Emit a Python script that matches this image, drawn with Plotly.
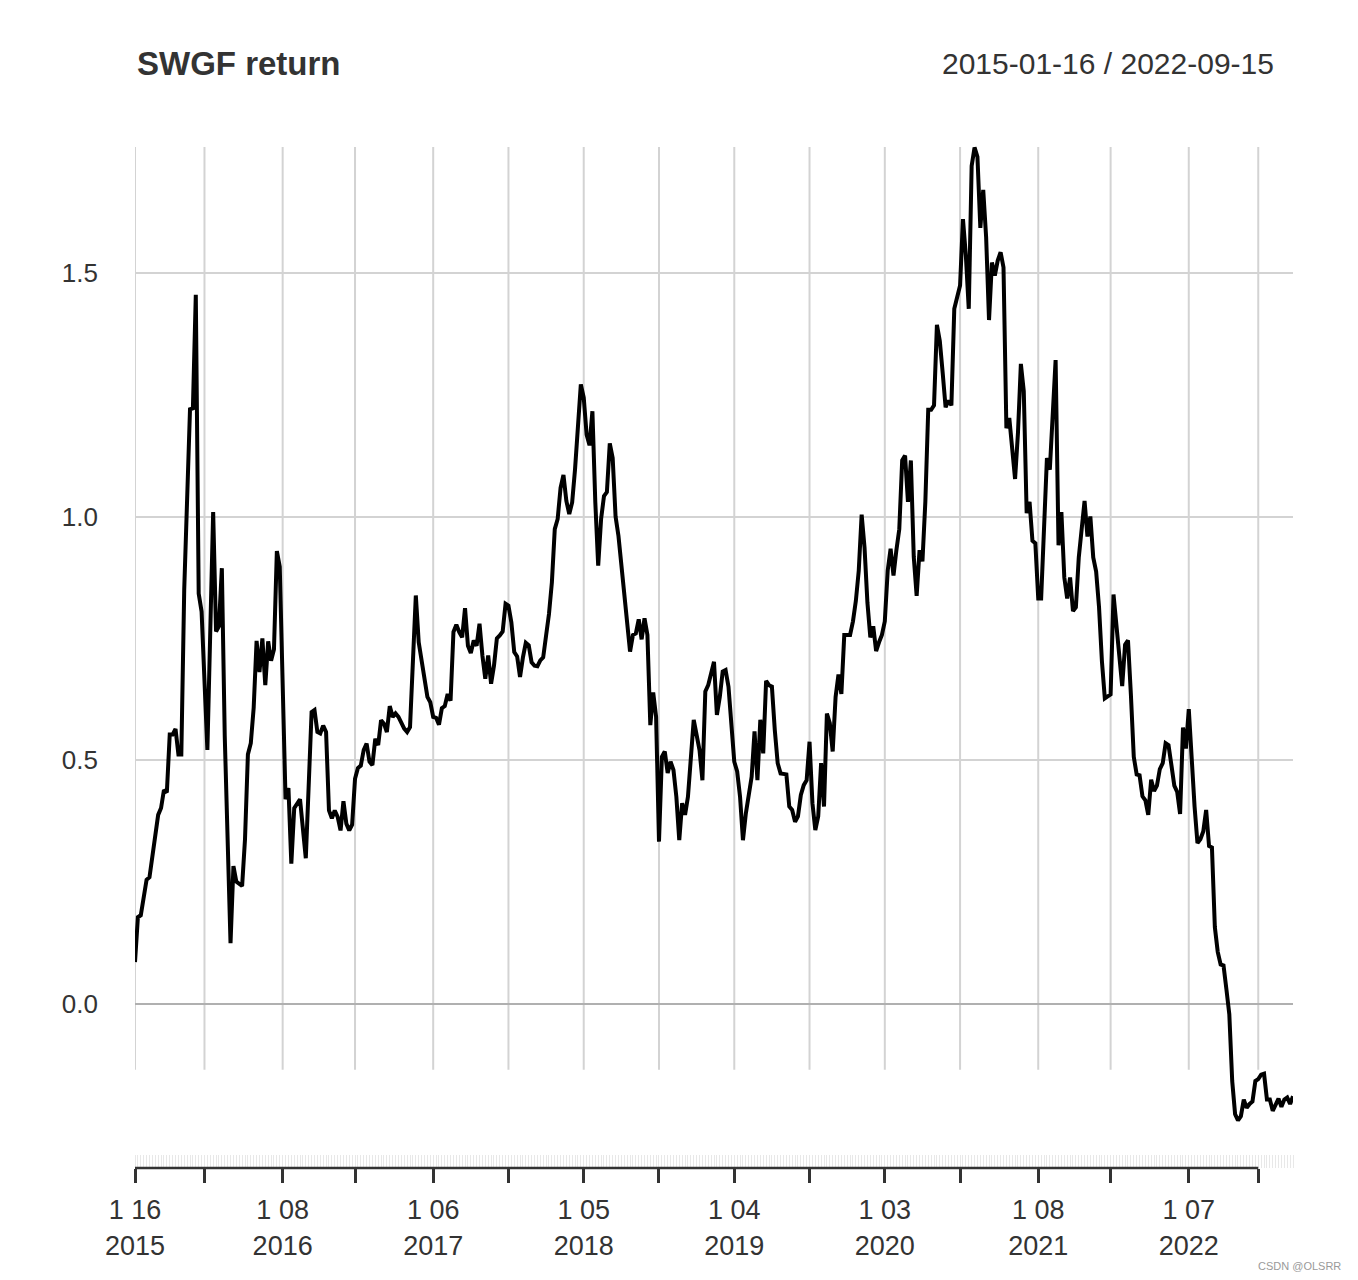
import pandas as pd
import plotly.graph_objects as go

# ---- data (weekly observations; week number counted from 2015-01-16) ----
start_date = "2015-01-16"

weeks_a = [0, 1, 2, 4, 5, 6, 8, 9, 10, 11, 12, 13, 14, 15, 16, 17, 19, 20, 21, 22,
           23, 25, 27, 28, 29, 30, 31, 33, 34, 35, 37, 38, 39, 40, 41, 42, 43, 44, 45, 46,
           47, 48, 49, 50, 51, 52, 53, 54, 55, 57, 59, 61, 62, 63, 64, 65, 66, 67, 68, 69,
           70, 71, 72, 73, 74, 75, 76, 77, 78, 79]
values_a = [0.086, 0.178, 0.182, 0.255, 0.26, 0.301, 0.388, 0.402, 0.439, 0.434,
            0.553, 0.553, 0.564, 0.512, 0.512, 0.85, 1.22, 1.222, 1.455, 0.842,
            0.805, 0.521, 1.009, 0.764, 0.775, 0.894, 0.55, 0.125, 0.283, 0.251,
            0.242, 0.338, 0.512, 0.535, 0.608, 0.745, 0.681, 0.75, 0.654, 0.744,
            0.704, 0.727, 0.929, 0.897, 0.65, 0.42, 0.443, 0.288, 0.402, 0.42,
            0.299, 0.599, 0.603, 0.558, 0.555, 0.571, 0.558, 0.397, 0.381, 0.397,
            0.384, 0.356, 0.416, 0.37, 0.356, 0.368, 0.462, 0.484, 0.489, 0.521]

weeks_b = [80, 81, 82, 83, 84, 85, 86, 87, 88, 89, 90, 91, 93, 94, 95, 96, 97, 98, 100, 101,
           102, 103, 104, 105, 106, 107, 108, 109, 110, 111, 112, 113, 114, 115, 116, 117, 118, 119, 120, 121,
           122, 123, 124, 125, 126, 127, 128, 129, 130, 131, 132, 133, 134, 135, 136, 137, 138, 139, 140, 141,
           142, 143, 144, 145, 146, 147, 148, 149, 150, 151, 152, 153, 154, 155, 156, 157, 158, 159, 160, 161,
           162, 163, 164, 165, 166, 167, 168]
values_b = [0.534, 0.497, 0.49, 0.544, 0.531, 0.582, 0.575, 0.558, 0.611, 0.589,
            0.596, 0.589, 0.565, 0.558, 0.568, 0.688, 0.838, 0.742, 0.667, 0.63,
            0.619, 0.589, 0.587, 0.573, 0.607, 0.611, 0.636, 0.622, 0.763, 0.778,
            0.763, 0.752, 0.812, 0.735, 0.72, 0.746, 0.735, 0.78, 0.715, 0.667,
            0.715, 0.657, 0.694, 0.75, 0.756, 0.764, 0.821, 0.817, 0.783, 0.722,
            0.713, 0.671, 0.711, 0.741, 0.736, 0.701, 0.694, 0.693, 0.705, 0.711,
            0.756, 0.8, 0.865, 0.974, 0.995, 1.059, 1.085, 1.032, 1.005, 1.029,
            1.097, 1.192, 1.271, 1.244, 1.168, 1.146, 1.216, 1.029, 0.899, 0.995,
            1.042, 1.05, 1.15, 1.12, 1.0, 0.96, 0.9]

weeks_c = [169, 170, 171, 172, 173, 174, 175, 176, 177, 178, 179, 180, 181, 182, 183, 184, 185, 186, 187, 188,
           189, 190, 191, 193, 194, 195, 196, 197, 198, 199, 200, 201, 202, 203, 204, 205, 206, 207, 208, 209,
           210, 211, 213, 214, 215, 216, 217, 218, 219, 220, 221, 222, 223, 225, 226, 227, 228, 229, 230, 231,
           232, 233, 234, 235, 236, 237, 238, 239, 240, 241, 242, 243]
values_c = [0.849, 0.771, 0.723, 0.757, 0.76, 0.789, 0.748, 0.791, 0.757, 0.572,
            0.639, 0.589, 0.333, 0.507, 0.518, 0.474, 0.497, 0.48, 0.425, 0.336,
            0.412, 0.388, 0.425, 0.583, 0.552, 0.521, 0.459, 0.641, 0.654, 0.682,
            0.702, 0.593, 0.63, 0.682, 0.685, 0.651, 0.562, 0.497, 0.477, 0.425,
            0.336, 0.391, 0.466, 0.559, 0.459, 0.583, 0.514, 0.663, 0.654, 0.651,
            0.562, 0.494, 0.473, 0.471, 0.405, 0.398, 0.374, 0.385, 0.429, 0.449,
            0.459, 0.538, 0.412, 0.357, 0.385, 0.494, 0.405, 0.596, 0.576, 0.518,
            0.63, 0.676]

weeks_d = [244, 245, 247, 248, 249, 250, 251, 252, 253, 254, 255, 256, 257, 258, 259, 260, 261, 262, 263, 264,
           265, 266, 267, 268, 269, 270, 271, 272, 273, 274, 275, 276, 277, 278, 279, 280, 281, 282, 283, 284,
           285, 286, 287, 288, 289, 290, 291, 292, 293, 294, 295, 296, 297, 298, 299, 300, 301, 302, 303, 304,
           305, 306, 307, 308, 309, 310, 311, 312, 313, 314, 315, 316, 317, 318, 319, 320, 321, 322, 323, 324]
values_d = [0.636, 0.757, 0.757, 0.785, 0.827, 0.889, 1.004, 0.936, 0.823, 0.752,
            0.775, 0.724, 0.742, 0.757, 0.785, 0.889, 0.934, 0.879, 0.931, 0.974,
            1.115, 1.125, 1.03, 1.115, 0.917, 0.837, 0.931, 0.908, 1.03, 1.219,
            1.219, 1.228, 1.393, 1.36, 1.294, 1.224, 1.238, 1.228, 1.426, 1.45,
            1.474, 1.61, 1.535, 1.426, 1.719, 1.757, 1.738, 1.592, 1.67, 1.573,
            1.403, 1.521, 1.494, 1.525, 1.542, 1.511, 1.181, 1.202, 1.134, 1.077,
            1.172, 1.313, 1.257, 1.007, 1.03, 0.95, 0.945, 0.832, 0.832, 0.974,
            1.12, 1.096, 1.228, 1.321, 0.941, 1.009, 0.875, 0.832, 0.875, 0.806]

weeks_e = [325, 326, 328, 329, 330, 331, 332, 333, 334, 335, 336, 337, 338, 339, 340, 341, 342, 343, 344, 345,
           346, 347, 348, 349, 350, 351, 352, 353, 354, 355, 356, 357, 358, 359, 360, 361, 362, 363, 364, 365,
           366, 367, 368, 369, 370, 371, 372, 373, 374, 375, 376, 377, 378, 379, 380, 381, 382, 383, 384, 385,
           386, 387, 388, 389, 390, 391, 392, 393, 394, 395, 396, 397, 398, 399, 400]
values_e = [0.814, 0.916, 1.032, 0.959, 1.0, 0.916, 0.887, 0.814, 0.703, 0.627,
            0.631, 0.635, 0.84, 0.772, 0.72, 0.652, 0.737, 0.746, 0.635, 0.507,
            0.471, 0.469, 0.426, 0.418, 0.388, 0.46, 0.437, 0.448, 0.482, 0.494,
            0.535, 0.531, 0.49, 0.448, 0.435, 0.39, 0.567, 0.524, 0.605, 0.499,
            0.405, 0.33, 0.338, 0.354, 0.398, 0.324, 0.321, 0.158, 0.107, 0.081,
            0.079, 0.03, -0.021, -0.158, -0.226, -0.239, -0.23, -0.196, -0.213, -0.205,
            -0.2, -0.158, -0.154, -0.145, -0.143, -0.196, -0.196, -0.219, -0.205, -0.194,
            -0.211, -0.196, -0.192, -0.205, -0.189]

tick_dates = ["2015-01-16", "2015-07-03", "2016-01-08", "2016-07-01", "2017-01-06", "2017-07-07",
              "2018-01-05", "2018-07-06", "2019-01-04", "2019-07-05", "2020-01-03", "2020-07-03",
              "2021-01-08", "2021-07-02", "2022-01-07", "2022-06-24"]
tick_labels = ["1 16<br>2015", "", "1 08<br>2016", "", "1 06<br>2017", "", "1 05<br>2018", "",
               "1 04<br>2019", "", "1 03<br>2020", "", "1 08<br>2021", "", "1 07<br>2022", ""]
y_ticks = [0.0, 0.5, 1.0, 1.5]
y_tick_labels = ["0.0", "0.5", "1.0", "1.5"]

title_text = "SWGF return"
range_text = "2015-01-16 / 2022-09-15"

# ---- build series ----
weeks = weeks_a + weeks_b + weeks_c + weeks_d + weeks_e
values = values_a + values_b + values_c + values_d + values_e
assert len(weeks) == len(values), (len(weeks), len(values))
dates = pd.Timestamp(start_date) + pd.to_timedelta([7 * w for w in weeks], unit="D")

FONT = "Liberation Sans, Arial, Helvetica, sans-serif"
TXT = "#333333"

fig = go.Figure()
fig.add_trace(go.Scatter(x=dates, y=values, mode="lines",
                         line=dict(color="#000000", width=4), hoverinfo="x+y",
                         showlegend=False))

shapes = []
for d in tick_dates:
    shapes.append(dict(type="line", xref="x", yref="y", x0=d, x1=d, y0=-0.135, y1=1.758,
                       line=dict(color="#d3d3d3", width=2), layer="below"))
shapes.append(dict(type="line", xref="x", yref="paper", x0=tick_dates[0], x1=tick_dates[-1],
                   y0=0, y1=0, line=dict(color="#333333", width=2.5)))

fig.update_layout(
    width=1350, height=1272,
    margin=dict(l=127, r=65, t=132, b=112),
    paper_bgcolor="white", plot_bgcolor="white",
    font=dict(family=FONT, color=TXT, size=26),
    shapes=shapes,
    annotations=[
        dict(text="<b>" + title_text + "</b>", xref="paper", yref="paper", x=0, y=1.0749,
             xanchor="left", yanchor="middle", showarrow=False,
             font=dict(size=33, color=TXT, family=FONT)),
        dict(text=range_text, xref="paper", yref="paper", x=0.9853, y=1.0749,
             xanchor="right", yanchor="middle", showarrow=False,
             font=dict(size=30, color=TXT, family=FONT)),
        dict(text="CSDN @OLSRR", xref="paper", yref="paper", x=1.043, y=-0.0953,
             xanchor="right", yanchor="middle", showarrow=False,
             font=dict(size=11, color="#9a9a9a", family=FONT)),
    ],
    xaxis=dict(
        type="date", range=["2015-01-16", "2022-09-16"],
        tickmode="array", tickvals=tick_dates, ticktext=tick_labels,
        ticks="outside", ticklen=14, tickwidth=2.5, tickcolor="#333333",
        showgrid=False, showline=False, zeroline=False, ticklabelstandoff=4,
        tickfont=dict(size=27, color=TXT, family=FONT),
        minor=dict(ticks="inside", ticklen=13, tickwidth=1, tickcolor="#e8e8e8",
                   dtick=7 * 86400000, tick0="2015-01-16", showgrid=False),
    ),
    yaxis=dict(
        range=[-0.3364, 1.7723],
        tickmode="array", tickvals=y_ticks, ticktext=y_tick_labels,
        ticks="", showgrid=True, gridcolor="#d3d3d3", gridwidth=2,
        zeroline=True, zerolinecolor="#b0b0b0", zerolinewidth=2,
        showline=False, ticklabelstandoff=36,
        tickfont=dict(size=26, color=TXT, family=FONT),
    ),
)

fig.write_html("out.html")
